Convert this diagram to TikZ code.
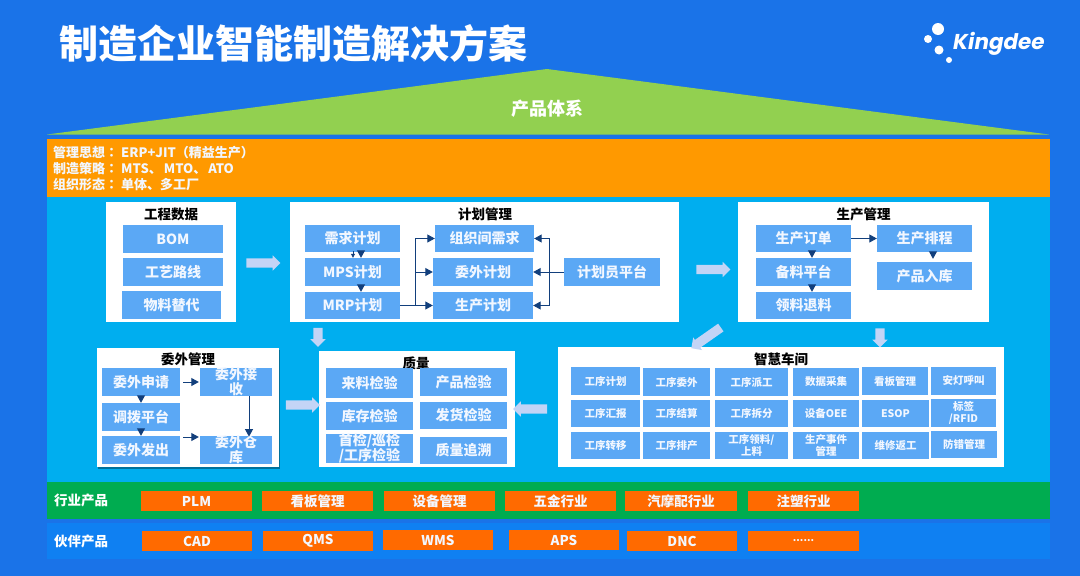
\documentclass[tikz,border=0pt]{standalone}
\usepackage{fontspec}
\setmainfont{Noto Sans CJK SC}
\newfontfamily\logofont{Poppins}
\newfontfamily\tcfont{Noto Sans CJK TC}
\usetikzlibrary{arrows.meta,shapes.arrows,shadows}
\definecolor{bgblue}{HTML}{1A73E8}
\definecolor{panel}{HTML}{00AEEF}
\definecolor{cellblue}{HTML}{5BA8F5}
\definecolor{chip}{HTML}{FF6A00}
\definecolor{bandorange}{HTML}{FF9900}
\definecolor{bandgreen}{HTML}{00AC50}
\definecolor{bandblue}{HTML}{0F80F2}
\definecolor{roof}{HTML}{92D050}
\definecolor{darkarrow}{HTML}{123F7C}
\definecolor{blockarrow}{HTML}{C3D4F6}
\definecolor{celltext}{HTML}{F2F7FF}
\newcommand{\bx}[7][cell]{%
  \pgfmathsetmacro{\bxcx}{(#3+#5)/2}%
  \pgfmathsetmacro{\bxcy}{(#4+#6)/2}%
  \pgfmathsetmacro{\bxw}{#5-#3}%
  \pgfmathsetmacro{\bxh}{#6-#4}%
  \node[#1,minimum width=\bxw pt,minimum height=\bxh pt] (#2) at (\bxcx,\bxcy) {#7};%
}
\newcommand{\cc}{{\tcfont\bfseries ：}\kern3pt}
\tikzset{
  cell/.style={fill=cellblue,text=celltext,inner sep=0pt,align=center,font=\fontsize{14}{15}\selectfont\bfseries},
  smallcell/.style={cell,font=\fontsize{10.5}{12}\selectfont\bfseries},
  panelbox/.style={fill=white,inner sep=0pt},
  shadowbox/.style={panelbox,drop shadow={shadow xshift=1pt,shadow yshift=-2pt,fill=black,opacity=.35}},
  heading/.style={inner sep=0pt,text=black,font=\fontsize{13.5}{15}\selectfont\bfseries},
  chipbox/.style={fill=chip,text=celltext,inner sep=0pt,font=\fontsize{13.5}{15}\selectfont\bfseries},
  bandlabel/.style={inner sep=0pt,text=white,anchor=west,font=\fontsize{13.5}{15}\selectfont\bfseries},
  band/.style={inner sep=0pt},
  flow/.style={draw=darkarrow,line width=1pt,-{Triangle[width=8pt,length=7.5pt]}},
  flowline/.style={draw=darkarrow,line width=1pt},
  tinyflow/.style={draw=darkarrow,line width=.8pt,-{Triangle[width=4pt,length=4pt]}},
  blockarr/.style={single arrow,fill=blockarrow,inner xsep=0pt,inner ysep=4.5pt,minimum height=34pt,single arrow head extend=3pt,single arrow head indent=0pt},
  dot/.style={circle,fill=white,inner sep=0pt}
}
\begin{document}
\begin{tikzpicture}[x=1pt,y=-1pt]
\useasboundingbox (0,0) rectangle (1080,576);
\fill[bgblue] (0,0) rectangle (1080,576);

% title and logo
\node[inner sep=0pt,text=white,font=\fontsize{39}{42}\selectfont\bfseries] (title) at (293.5,43) {制造企业智能制造解决方案};
\node[dot,minimum size=12pt] (d1) at (938,29) {};
\node[dot,minimum size=8pt] (d2) at (928,39) {};
\node[dot,minimum size=9pt] (d3) at (939,50) {};
\node[dot,minimum size=6pt] (d4) at (949,60) {};
\node[inner sep=0pt,text=white,anchor=west,font=\logofont\fontsize{21.5}{24}\selectfont\bfseries\itshape] (logo) at (953,43.5) {Kingdee};

% roof
\fill[roof] (47,134.5) coordinate (r1) -- (547,69) coordinate (r2) -- (1049,134.5) coordinate (r3) -- cycle;
\node[inner sep=0pt,text=white,font=\fontsize{18}{20}\selectfont\bfseries] (roofl) at (547,109) {产品体系};

% bands
\bx[band,fill=panel]{bpanel}{47}{197}{1050}{483}{}
\bx[band,fill=bandorange]{borange}{47}{139}{1050}{197}{}
\bx[band,fill=bandgreen]{bgreen}{47}{482}{1050}{519}{}
\bx[band,fill=bandblue]{bpartner}{47}{523}{1050}{559}{}
\node[inner sep=0pt,anchor=north west,align=left,text=celltext,font=\fontsize{13}{16}\selectfont\bfseries] (ideas) at (53,146) {管理思想\cc ERP+JIT（精益生产）\\制造策略\cc MTS、\kern2pt MTO、\kern2pt ATO\\组织形态\cc 单体、多工厂};

% panels
\bx[panelbox]{pdata}{106}{202}{236}{322}{}
\bx[panelbox]{pplan}{290}{202}{679}{322}{}
\bx[panelbox]{pprod}{738}{202}{989}{322}{}
\bx[shadowbox]{pout}{97}{348}{279}{467}{}
\bx[panelbox]{pqual}{319}{351}{515}{467}{}
\bx[panelbox]{pshop}{558}{347}{1004}{467}{}

\node[heading] (h1) at (171,214) {工程数据};
\node[heading] (h2) at (485,214) {计划管理};
\node[heading] (h3) at (863.5,214) {生产管理};
\node[heading] (h4) at (188,359) {委外管理};
\node[heading] (h5) at (416,363) {质量};
\node[heading] (h6) at (781,359) {智慧车间};

% engineering data
\bx{bom}{123}{225}{223}{253}{BOM}
\bx{route}{123}{258}{223}{286}{工艺路线}
\bx{subst}{122}{291}{221}{319}{物料替代}

% planning
\bx{demand}{305}{225}{400}{252}{需求计划}
\bx{mps}{305}{258}{400}{286}{MPS计划}
\bx{mrp}{305}{292}{400}{319}{MRP计划}
\bx{orgd}{435}{225}{534}{252}{组织间需求}
\bx{outp}{433}{258}{533}{286}{委外计划}
\bx{prodp}{433}{292}{533}{319}{生产计划}
\bx{planner}{564}{258}{660}{286}{计划员平台}
\coordinate (bl) at (415,305.5);
\coordinate (br) at (549,272);
\draw[flow,shorten <=-3pt] ([xshift=8.5pt]demand.south) -- ([xshift=8.5pt]mps.north);
\draw[tinyflow,shorten <=-1pt] ([xshift=.5pt]demand.south) -- ([xshift=.5pt]mps.north);
\draw[flow,shorten <=-3pt] ([xshift=8.5pt]mps.south) -- ([xshift=8.5pt]mrp.north);
\draw[flow] (mrp.east) -- (prodp.west);
\draw[flow] (bl) |- (outp.west);
\draw[flow] (bl) |- (orgd.west);
\draw[flowline] (planner.west) -- (br);
\draw[flow] (br) |- (orgd.east);
\draw[flow] (br) -- (outp.east);
\draw[flow] (br) |- (prodp.east);

% production
\bx{order}{756}{225}{851}{252}{生产订单}
\bx{prep}{756}{258}{851}{286}{备料平台}
\bx{issue}{756}{292}{851}{319}{领料退料}
\bx{sched}{877}{225}{972}{252}{生产排程}
\bx{stock}{877}{262}{972}{290}{产品入库}
\draw[flow] (order.east) -- (sched.west);
\draw[flow,shorten <=-3pt] ([xshift=8.5pt]order.south) -- ([xshift=8.5pt]prep.north);
\draw[flow,shorten <=-3pt] ([xshift=8.5pt]prep.south) -- ([xshift=8.5pt]issue.north);
\draw[flow,shorten <=-3pt,shorten >=3pt] ([xshift=8.5pt]sched.south) -- ([xshift=8.5pt]stock.north);

% outsourcing
\bx{oreq}{102}{368}{180}{396}{委外申请}
\bx{otrans}{102}{403}{180}{431}{调拨平台}
\bx{osend}{102}{436}{180}{464}{委外发出}
\bx{orecv}{200}{368}{272}{396}{委外接\\收}
\bx{owh}{200}{436}{272}{464}{委外仓\\库}
\draw[flow,shorten <=3pt,shorten >=1pt] (oreq.east) -- (orecv.west);
\draw[flow,shorten <=-3pt] (oreq.south) -- (otrans.north);
\draw[flow,shorten <=-3pt] (otrans.south) -- (osend.north);
\draw[flow,shorten >=-1pt] ([xshift=13pt]orecv.south) -- ([xshift=13pt]owh.north);
\draw[flow,shorten <=3pt,shorten >=1pt] ([yshift=13pt]osend.east) -- ([yshift=13pt]owh.west);

% quality
\bx{q1}{326}{368}{413}{398}{来料检验}
\bx{q2}{326}{402}{413}{430}{库存检验}
\bx{q3}{326}{435}{413}{462}{首检/巡检\\/工序检验}
\bx{q4}{420}{368}{507}{396}{产品检验}
\bx{q5}{420}{402}{507}{429}{发货检验}
\bx{q6}{420}{437}{507}{464}{质量追溯}

% workshop
\bx[smallcell]{s11}{571}{367}{640}{395}{工序计划}
\bx[smallcell]{s12}{643}{368}{710}{396}{工序委外}
\bx[smallcell]{s13}{715}{368}{788}{396}{工序派工}
\bx[smallcell]{s14}{793}{368}{859}{396}{数据采集}
\bx[smallcell]{s15}{862}{367}{928}{395}{看板管理}
\bx[smallcell]{s16}{931}{367}{996}{395}{安灯呼叫}
\bx[smallcell]{s21}{571}{400}{640}{427}{工序汇报}
\bx[smallcell]{s22}{643}{400}{710}{427}{工序结算}
\bx[smallcell]{s23}{715}{400}{788}{427}{工序拆分}
\bx[smallcell]{s24}{793}{400}{859}{427}{设备OEE}
\bx[smallcell]{s25}{862}{400}{929}{427}{ESOP}
\bx[smallcell]{s26}{931}{399}{996}{427}{标签\\/RFID}
\bx[smallcell]{s31}{571}{432}{640}{459}{工序转移}
\bx[smallcell]{s32}{643}{432}{710}{459}{工序排产}
\bx[smallcell]{s33}{715}{432}{788}{459}{工序领料/\\上料}
\bx[smallcell]{s34}{793}{432}{859}{459}{生产事件\\管理}
\bx[smallcell]{s35}{862}{432}{929}{459}{维修返工}
\bx[smallcell]{s36}{931}{431}{997}{458}{防错管理}

% block arrows
\node[blockarr] (a1) at (261,263) {};
\node[blockarr] (a2) at (711,269.5) {};
\node[blockarr,minimum height=19pt,rotate=-90] (a3) at (318,335) {};
\node[blockarr,minimum height=36pt,rotate=215] (a4) at (708,336.5) {};
\node[blockarr,minimum height=19pt,rotate=-90] (a5) at (880,335.5) {};
\node[blockarr] (a6) at (300.5,405) {};
\node[blockarr,rotate=180] (a7) at (532.5,409) {};

% industry products
\node[bandlabel] (lab1) at (54,500.5) {行业产品};
\bx[chipbox]{c1}{141}{491}{252}{511}{PLM}
\bx[chipbox]{c2}{262}{491}{373}{511}{看板管理}
\bx[chipbox]{c3}{384}{491}{495}{511}{设备管理}
\bx[chipbox]{c4}{505}{491}{616}{511}{五金行业}
\bx[chipbox]{c5}{625}{491}{737}{511}{汽摩配行业}
\bx[chipbox]{c6}{748}{491}{859}{511}{注塑行业}

% partner products
\node[bandlabel] (lab2) at (54,541) {伙伴产品};
\bx[chipbox]{p1}{142}{531}{252}{551}{CAD}
\bx[chipbox]{p2}{263}{531}{373}{551}{QMS}
\bx[chipbox]{p3}{383}{530}{493}{550}{WMS}
\bx[chipbox]{p4}{509}{530}{619}{550}{APS}
\bx[chipbox]{p5}{627}{531}{737}{551}{DNC}
\bx[chipbox,font=\fontsize{10}{12}\selectfont\bfseries]{p6}{748}{531}{859}{551}{......}
\end{tikzpicture}
\end{document}
